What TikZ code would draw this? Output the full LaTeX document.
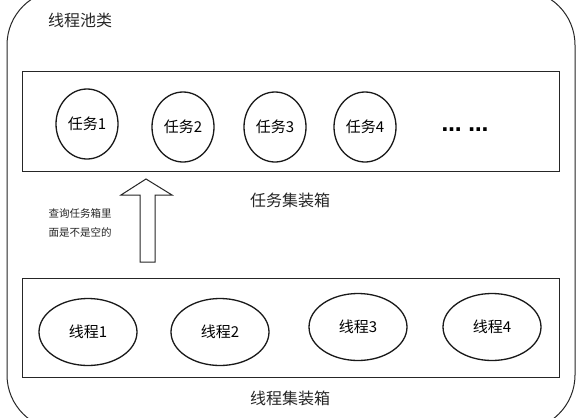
\documentclass[tikz,border=0pt]{standalone}
\usepackage{fontspec}
\newfontfamily\cjk{Noto Sans CJK SC}
\newfontfamily\djv{DejaVu Sans}
\usetikzlibrary{shapes.geometric}
\begin{document}
\begin{tikzpicture}[x=1pt,y=-1pt,
  box/.style={draw=black!85,line width=1pt},
  task/.style={draw=black!90,line width=1.3pt,ellipse,minimum width=62pt,minimum height=70pt,inner sep=0pt,font=\cjk\fontsize{15}{15}\selectfont},
  thread/.style={draw=black!90,line width=1.3pt,ellipse,minimum width=98pt,minimum height=67pt,inner sep=0pt,font=\cjk\fontsize{15}{15}\selectfont},
  lbl/.style={font=\cjk\fontsize{16}{16}\selectfont,inner sep=0pt,text=black!85},
  small/.style={font=\cjk\fontsize{10.5}{10.5}\selectfont,inner sep=0pt,text=black!85}]
\useasboundingbox (0,0) rectangle (577,417);
\fill[white] (0,0) rectangle (577,417);
% outer class
\draw[box,rounded corners=55pt] (7,-10) rectangle (575,430);
\node[lbl] (title) at (80,20) {线程池类};
% task box
\draw[box] (22,72) rectangle (559,171);
\node[task] (t1) at (87,124) {任务1};
\node[task] (t2) at (183,127) {任务2};
\node[task] (t3) at (275,127) {任务3};
\node[task] (t4) at (365,127) {任务4};
\node[font=\djv\bfseries\fontsize{20}{20}\selectfont,inner sep=0pt,anchor=base] (dots) at (465,131) {… …};
\node[lbl] (tlabel) at (290,200) {任务集装箱};
% arrow
\draw[box,line join=miter] (140,262) -- (140,195) -- (121,195) -- (146,179) -- (172,195) -- (155,195) -- (155,262) -- cycle;
\node[small] (q1) at (80,213) {查询任务箱里};
\node[small] (q2) at (80,232) {面是不是空的};
% thread box
\draw[box] (22,278) rectangle (559,377);
\node[thread] (h1) at (88,332) {线程1};
\node[thread] (h2) at (220,332) {线程2};
\node[thread] (h3) at (358,327) {线程3};
\node[thread] (h4) at (492,327) {线程4};
\node[lbl] (hlabel) at (290,398) {线程集装箱};
\end{tikzpicture}
\end{document}
